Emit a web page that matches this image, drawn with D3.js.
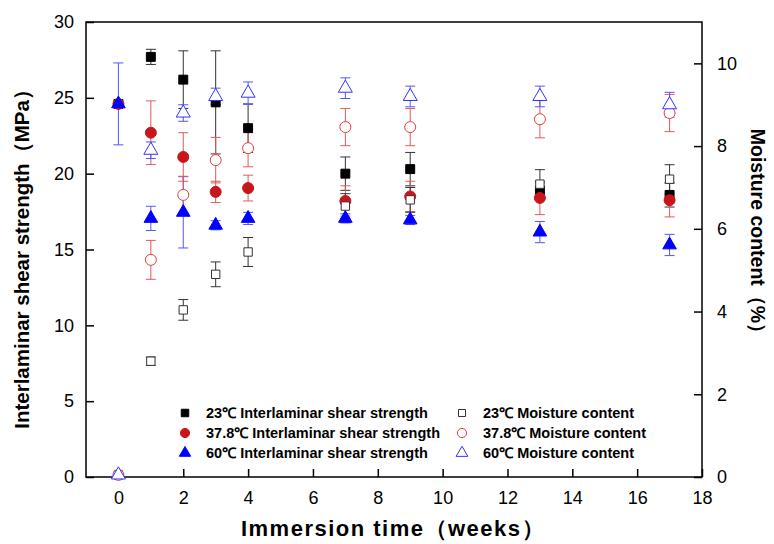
<!DOCTYPE html>
<html lang="en">
<head>
<meta charset="utf-8">
<title>Interlaminar shear strength and moisture content</title>
<script src="https://cdnjs.cloudflare.com/ajax/libs/d3/7.8.5/d3.min.js"></script>
<style>
  body { margin: 0; background: #fff; font-family: Arial, 'Liberation Sans', sans-serif; }
  svg { display: block; }
  .tick text { font-size: 18px; font-family: Arial, 'Liberation Sans', sans-serif; }
  .title { font-weight: bold; font-size: 22px; }
  .legend text { font-size: 14.5px; font-weight: bold; }
</style>
</head>
<body>
<svg></svg>
<script>
// immersion time (weeks)
var weeks = [0, 1, 2, 3, 4, 7, 9, 13, 17];

// interlaminar shear strength (MPa) with error
var ilss23 = [24.6, 27.7, 26.2, 24.7, 23.0, 20.0, 20.3, 18.9, 18.6];
var ilss23Err = [0, 0.5, 1.9, 3.4, 1.6, 1.1, 1.1, 0.5, 0.8];
var ilss38 = [24.6, 22.7, 21.1, 18.8, 19.05, 18.2, 18.5, 18.4, 18.25];
var ilss38Err = [0, 2.1, 1.6, 0.7, 0.85, 1.0, 1.0, 1.1, 1.1];
var ilss60 = [24.6, 17.05, 17.45, 16.6, 17.05, 17.05, 16.95, 16.15, 15.3];
var ilss60Err = [2.7, 0.8, 2.35, 0.3, 0.4, 0.3, 0.3, 0.7, 0.7];

// moisture content (%) with error
var mc23 = [0.05, 2.8, 4.04, 4.9, 5.44, 6.55, 6.7, 7.08, 7.2];
var mc23Err = [0, 0.1, 0.25, 0.3, 0.35, 0.3, 0.3, 0.35, 0.35];
var mc38 = [0.05, 5.25, 6.82, 7.66, 7.95, 8.46, 8.46, 8.65, 8.8];
var mc38Err = [0, 0.47, 0.45, 0.55, 0.45, 0.45, 0.45, 0.45, 0.45];
var mc60 = [0.05, 7.9, 8.8, 9.2, 9.28, 9.4, 9.2, 9.2, 9.0];
var mc60Err = [0, 0.2, 0.2, 0.2, 0.27, 0.25, 0.25, 0.25, 0.3];

var xTicks = [0, 2, 4, 6, 8, 10, 12, 14, 16, 18];
var yTicks = [0, 5, 10, 15, 20, 25, 30];
var y2Ticks = [0, 2, 4, 6, 8, 10];

var width = 774, height = 544;
// plot frame edges (window.top is reserved, so use other names)
var pLeft = 86, pRight = 702, pTop = 22, pBottom = 477;

var svg = d3.select("svg").attr("width", width).attr("height", height);

var xScale = d3.scaleLinear().domain([-1, 18]).range([pLeft, pRight]);
var yScale = d3.scaleLinear().domain([0, 30]).range([pBottom, pTop]);
var y2Scale = d3.scaleLinear().domain([0, 11]).range([pBottom, pTop]);

// axes, ticks pointing inward
svg.append("g")
    .attr("transform", "translate(0," + pBottom + ")")
    .call(d3.axisBottom(xScale).tickValues(xTicks).tickSize(-8).tickSizeOuter(0).tickPadding(14));
svg.append("g")
    .attr("transform", "translate(" + pLeft + ",0)")
    .call(d3.axisLeft(yScale).tickValues(yTicks).tickSize(-8).tickSizeOuter(0).tickPadding(12));
svg.append("g")
    .attr("transform", "translate(" + pRight + ",0)")
    .call(d3.axisRight(y2Scale).tickValues(y2Ticks).tickSize(-8).tickSizeOuter(0).tickPadding(15));

svg.selectAll(".domain").remove();
svg.selectAll(".tick line").attr("stroke", "#000").attr("stroke-width", 1.5);

// frame
svg.append("rect")
    .attr("x", pLeft).attr("y", pTop)
    .attr("width", pRight - pLeft).attr("height", pBottom - pTop)
    .attr("fill", "none").attr("stroke", "#000").attr("stroke-width", 1.5);

var series = [
  { vals: ilss23, err: ilss23Err, scale: yScale, shape: d3.symbolSquare, size: 80, fill: "#000", stroke: "#000", bar: "#333", label: "23℃ Interlaminar shear strength" },
  { vals: ilss38, err: ilss38Err, scale: yScale, shape: d3.symbolCircle, size: 95, fill: "#c8161d", stroke: "#c8161d", bar: "#e05a5a", label: "37.8℃ Interlaminar shear strength" },
  { vals: ilss60, err: ilss60Err, scale: yScale, shape: d3.symbolTriangle, size: 80, fill: "#0000ff", stroke: "#0000ff", bar: "#5555ff", label: "60℃ Interlaminar shear strength" },
  { vals: mc23, err: mc23Err, scale: y2Scale, shape: d3.symbolSquare, size: 70, fill: "#fff", stroke: "#333", bar: "#333", label: "23℃ Moisture content" },
  { vals: mc38, err: mc38Err, scale: y2Scale, shape: d3.symbolCircle, size: 95, fill: "#fff", stroke: "#e04040", bar: "#e05a5a", label: "37.8℃ Moisture content" },
  { vals: mc60, err: mc60Err, scale: y2Scale, shape: d3.symbolTriangle, size: 85, fill: "#fff", stroke: "#3333ff", bar: "#5555ff", label: "60℃ Moisture content" }
];

var cap = 5;

// error bars first
series.forEach(function(s) {
  var pts = weeks.map(function(w, i) { return { x: w, v: s.vals[i], e: s.err[i] }; })
                 .filter(function(p) { return p.e > 0; });
  var g = svg.append("g").attr("stroke", s.bar).attr("stroke-width", 1);
  pts.forEach(function(p) {
    var cx = xScale(p.x), y1 = s.scale(p.v + p.e), y0 = s.scale(p.v - p.e);
    g.append("line").attr("x1", cx).attr("x2", cx).attr("y1", y1).attr("y2", y0);
    g.append("line").attr("x1", cx - cap).attr("x2", cx + cap).attr("y1", y1).attr("y2", y1);
    g.append("line").attr("x1", cx - cap).attr("x2", cx + cap).attr("y1", y0).attr("y2", y0);
  });
});

// markers
series.forEach(function(s) {
  svg.append("g").selectAll("path")
    .data(weeks.map(function(w, i) { return { x: w, v: s.vals[i] }; }))
    .enter().append("path")
      .attr("d", d3.symbol().type(s.shape).size(s.size))
      .attr("transform", function(d) { return "translate(" + xScale(d.x) + "," + s.scale(d.v) + ")"; })
      .attr("fill", s.fill)
      .attr("stroke", s.stroke)
      .attr("stroke-width", 1);
});

// legend
var legend = svg.append("g").attr("class", "legend");
series.forEach(function(s, i) {
  var col = Math.floor(i / 3), row = i % 3;
  var sx = col ? 462 : 185, ty = 413 + row * 20;
  legend.append("path")
    .attr("d", d3.symbol().type(s.shape).size(s.size * 0.7))
    .attr("transform", "translate(" + sx + "," + ty + ")")
    .attr("fill", s.fill).attr("stroke", s.stroke);
  legend.append("text")
    .attr("x", sx + 21).attr("y", ty).attr("dy", "0.35em")
    .text(s.label);
});

// axis titles
svg.append("text").attr("class", "title")
    .attr("x", 393).attr("y", 536)
    .attr("text-anchor", "middle")
    .style("letter-spacing", "1.5px")
    .text("Immersion time（weeks）");

svg.append("text").attr("class", "title")
    .attr("transform", "translate(29," + 254 + ") rotate(-90)")
    .attr("text-anchor", "middle")
    .style("font-size", "20.5px")
    .text("Interlaminar shear strength（MPa）");

svg.append("text").attr("class", "title")
    .attr("transform", "translate(751," + 236 + ") rotate(90)")
    .attr("text-anchor", "middle")
    .style("font-size", "19.5px")
    .text("Moisture content（%）");
</script>
</body>
</html>
